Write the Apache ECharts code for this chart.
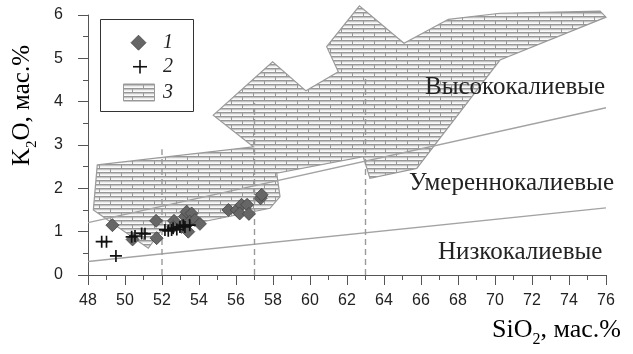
<!DOCTYPE html>
<html>
<head>
<meta charset="utf-8">
<script src="https://cdn.jsdelivr.net/npm/echarts@6/dist/echarts.min.js"></script>
<style>
  html, body { margin: 0; padding: 0; background: #fff; }
  #chart { width: 633px; height: 354px; }
</style>
</head>
<body>
<div id="chart"></div>
<script>
// Axis ranges and ticks
const xTicks = [48, 50, 52, 54, 56, 58, 60, 62, 64, 66, 68, 70, 72, 74, 76];
const yTicks = [0, 1, 2, 3, 4, 5, 6];

// Group 1 samples (SiO2, K2O)
const group1 = [
  [49.32, 1.15], [50.41, 0.82], [51.68, 1.25], [51.71, 0.85],
  [52.65, 1.25], [52.60, 1.11], [53.06, 1.11], [53.24, 1.35],
  [53.33, 1.46], [53.60, 1.42], [53.50, 1.23], [53.78, 1.27],
  [54.05, 1.18], [53.42, 1.00], [55.59, 1.50], [56.04, 1.50],
  [56.30, 1.62], [56.60, 1.62], [56.20, 1.42], [56.70, 1.41],
  [57.33, 1.77], [57.39, 1.85]
];

// Group 2 samples (SiO2, K2O)
const group2 = [
  [48.74, 0.77], [49.00, 0.77], [49.51, 0.44], [50.36, 0.88],
  [50.54, 0.90], [50.90, 0.96], [51.08, 0.95], [52.16, 1.04],
  [52.34, 1.02], [52.52, 1.04], [52.80, 1.05], [52.60, 1.08],
  [52.97, 1.11], [53.24, 1.11], [53.50, 1.15], [53.15, 1.15]
];

// Outline of field 3 (SiO2, K2O)
const field3 = [
  [48.50, 2.54], [56.94, 2.96], [54.77, 3.69], [57.98, 4.92],
  [59.78, 4.25], [61.53, 4.69], [60.90, 5.27], [62.67, 6.21],
  [65.08, 5.35], [67.48, 5.90], [70.27, 6.04], [75.68, 6.09],
  [76.00, 5.95], [70.27, 4.96], [65.77, 2.46], [63.24, 2.23],
  [62.88, 2.73], [58.20, 2.35], [58.38, 1.81], [57.84, 1.54],
  [51.98, 1.04], [51.26, 0.62], [48.29, 1.50]
];

// Series boundaries
const lowMediumK = [[48, 0.31], [76, 1.55]];
const mediumHighK = [[48, 1.21], [76, 3.86]];
const dividers = [
  [[52, 0], [52, 2.9]],
  [[57, 0], [57, 3.97]],
  [[63, 0], [63, 4.58]]
];

// Series field names
const fieldNames = ['Высококалиевые', 'Умереннокалиевые', 'Низкокалиевые'];
const legendNames = ['1', '2', '3'];

// Brick-like horizontal hatch used for field 3
function makeHatch() {
  const c = document.createElement('canvas');
  c.width = 22; c.height = 8;
  const g = c.getContext('2d');
  g.fillStyle = '#ededed';
  g.fillRect(0, 0, 22, 8);
  g.fillStyle = '#979797';
  g.fillRect(0, 0, 22, 1);
  g.fillRect(0, 4, 22, 1);
  g.fillStyle = '#c4c4c4';
  g.fillRect(0, 1, 22, 1);
  g.fillRect(0, 5, 22, 1);
  g.fillStyle = '#fafafa';
  g.fillRect(0, 3, 22, 1);
  g.fillRect(0, 7, 22, 1);
  g.fillStyle = '#9a9a9a';
  g.fillRect(0, 1, 1, 3);
  g.fillRect(11, 5, 1, 3);
  return c;
}
const hatch = { image: makeHatch(), repeat: 'repeat' };

const plusPath = 'path://M4.3,0H5.7V4.3H10V5.7H5.7V10H4.3V5.7H0V4.3H4.3Z';

const serif = 'Liberation Serif';
const sans = 'Liberation Sans';

const chart = echarts.init(document.getElementById('chart'), null, { renderer: 'canvas' });

function titleRich(size) {
  return {
    a: { fontFamily: serif, fontSize: size, color: '#222', lineHeight: size + 3, verticalAlign: 'bottom' },
    s: { fontFamily: serif, fontSize: Math.round(size * 0.6), color: '#222', lineHeight: size + 3, verticalAlign: 'bottom', padding: [0, 0, -5, 0] }
  };
}

// Legend box drawn as a small key
const legendY = [42.7, 66.7, 92.5];
const legendKey = [
  { type: 'rect', shape: { x: 100.5, y: 19.5, width: 93, height: 92 },
    style: { fill: '#fff', stroke: '#333', lineWidth: 1 }, z: 10 },
  { type: 'polygon', z: 11,
    shape: { points: [[138.5, legendY[0] - 7.5], [146, legendY[0]], [138.5, legendY[0] + 7.5], [131, legendY[0]]] },
    style: { fill: '#666', stroke: '#444', lineWidth: 0.8 } },
  { type: 'rect', z: 11, shape: { x: 133, y: legendY[1] - 0.75, width: 14, height: 1.6 }, style: { fill: '#111' } },
  { type: 'rect', z: 11, shape: { x: 139.2, y: legendY[1] - 6.8, width: 1.6, height: 13.6 }, style: { fill: '#111' } },
  { type: 'rect', z: 11, shape: { x: 123.5, y: legendY[2] - 8.5, width: 31, height: 17 },
    style: { fill: hatch, stroke: '#999', lineWidth: 1 } }
].concat(legendNames.map(function (n, i) {
  return { type: 'text', z: 11, x: 163, y: legendY[i],
    style: { text: n, font: 'italic 20px "Liberation Serif"', fill: '#222', verticalAlign: 'middle' } };
}));

const option = {
  animation: false,
  backgroundColor: '#ffffff',
  grid: { left: 88, right: 27, top: 15, bottom: 79, containLabel: false },
  xAxis: {
    type: 'value',
    min: xTicks[0], max: xTicks[xTicks.length - 1], interval: 2,
    splitLine: { show: false },
    axisLine: { lineStyle: { color: '#555', width: 1 } },
    axisTick: { show: true, length: 10, lineStyle: { color: '#555' } },
    minorTick: { show: true, splitNumber: 2, length: 5, lineStyle: { color: '#555' } },
    axisLabel: { color: '#222', fontFamily: sans, fontSize: 16, margin: 18 }
  },
  yAxis: {
    type: 'value',
    min: yTicks[0], max: yTicks[yTicks.length - 1], interval: 1,
    splitLine: { show: false },
    axisLine: { show: true, lineStyle: { color: '#555', width: 1 } },
    axisTick: { show: true, length: 10, lineStyle: { color: '#555' } },
    minorTick: { show: true, splitNumber: 2, length: 5, lineStyle: { color: '#555' } },
    axisLabel: { color: '#222', fontFamily: sans, fontSize: 16, margin: 25 }
  },
  graphic: legendKey.concat([
    { type: 'text', left: 425, top: 75, z: 10,
      style: { text: fieldNames[0], font: '25px "Liberation Serif"', fill: '#222' } },
    { type: 'text', left: 409, top: 171, z: 10,
      style: { text: fieldNames[1], font: '25px "Liberation Serif"', fill: '#222' } },
    { type: 'text', left: 438, top: 240, z: 10,
      style: { text: fieldNames[2], font: '25px "Liberation Serif"', fill: '#222' } },
    { type: 'text', right: 12, top: 317, z: 10,
      style: { text: '{a|SiO}{s|2}{a|, мас.%}', rich: titleRich(26) } },
    { type: 'text', x: 7, y: 166, rotation: Math.PI / 2, z: 10,
      style: { text: '{a|K}{s|2}{a|O, мас.%}', rich: titleRich(25) } }
  ]),
  series: [
    {
      name: legendNames[2],
      type: 'custom',
      coordinateSystem: 'cartesian2d',
      clip: false,
      data: [0],
      renderItem: function (params, api) {
        const pts = field3.map(function (p) { return api.coord(p); });
        return {
          type: 'polygon',
          shape: { points: pts },
          style: { fill: hatch, stroke: '#9a9a9a', lineWidth: 1.2 }
        };
      },
      z: 1
    },
    {
      type: 'line', data: lowMediumK, symbol: 'none', silent: true,
      lineStyle: { color: '#a3a3a3', width: 1.4 }, z: 2
    },
    {
      type: 'line', data: mediumHighK, symbol: 'none', silent: true,
      lineStyle: { color: '#a3a3a3', width: 1.4 }, z: 2
    }
  ].concat(dividers.map(function (d) {
    return {
      type: 'line', data: d, symbol: 'none', silent: true,
      lineStyle: { color: '#9a9a9a', width: 1.4, type: [6, 4] }, z: 2
    };
  })).concat([
    {
      name: legendNames[0], type: 'scatter', data: group1,
      symbol: 'diamond', symbolSize: 13,
      itemStyle: { color: '#666', borderColor: '#444', borderWidth: 0.8, opacity: 1 }, z: 3
    },
    {
      name: legendNames[1], type: 'scatter', data: group2,
      symbol: plusPath, symbolSize: 12,
      itemStyle: { color: '#111', opacity: 1 }, z: 4
    }
  ])
};

chart.setOption(option);
</script>
</body>
</html>
